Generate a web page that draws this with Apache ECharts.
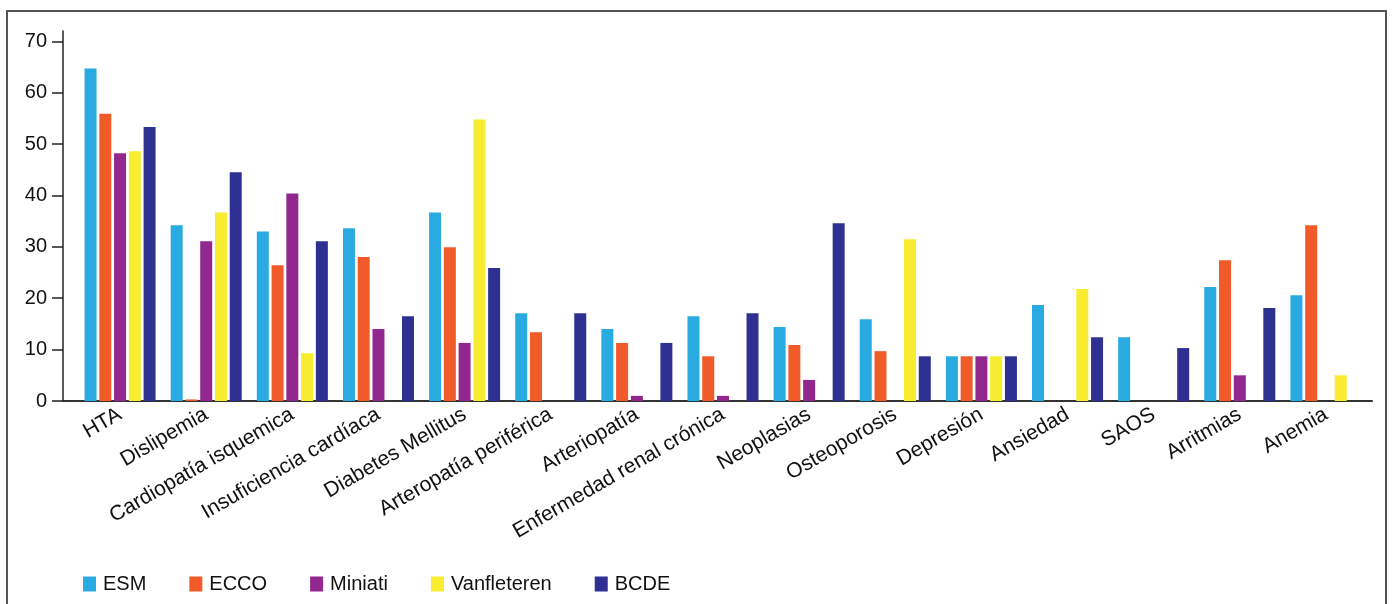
<!DOCTYPE html>
<html>
<head>
<meta charset="utf-8">
<script src="https://cdn.jsdelivr.net/npm/echarts@6/dist/echarts.min.js"></script>
<style>
  html, body { margin: 0; padding: 0; background: #fff; }
  #frame { position: absolute; left: 6px; top: 10px; width: 1381px; height: 700px;
           border: 2px solid #555; border-bottom: none; box-sizing: border-box; }
  #chart { position: absolute; left: 0; top: 0; width: 1395px; height: 604px; }
</style>
</head>
<body>
<div id="frame"></div>
<div id="chart"></div>
<script>
const categories = ['HTA', 'Dislipemia', 'Cardiopatía isquemica', 'Insuficiencia cardíaca', 'Diabetes Mellitus',
  'Arteropatía periférica', 'Arteriopatía', 'Enfermedad renal crónica', 'Neoplasias', 'Osteoporosis',
  'Depresión', 'Ansiedad', 'SAOS', 'Arritmias', 'Anemia'];
const esm = [64.7, 34.2, 33.0, 33.6, 36.7, 17.1, 14.0, 16.5, 14.4, 15.9, 8.7, 18.7, 12.4, 22.2, 20.6];
const ecco = [55.9, 0.3, 26.4, 28.0, 29.9, 13.4, 11.3, 8.7, 10.9, 9.7, 8.7, null, null, 27.4, 34.2];
const miniati = [48.2, 31.1, 40.4, 14.0, 11.3, null, 1.0, 1.0, 4.1, null, 8.7, null, null, 5.0, null];
const vanfleteren = [48.6, 36.7, 9.3, null, 54.8, null, null, null, null, 31.5, 8.7, 21.8, null, null, 5.0];
const bcde = [53.3, 44.5, 31.1, 16.5, 25.9, 17.1, 11.3, 17.1, 34.6, 8.7, 8.7, 12.4, 10.3, 18.1, null];
const yTicks = [0, 10, 20, 30, 40, 50, 60, 70];

const seriesNames = ['ESM', 'ECCO', 'Miniati', 'Vanfleteren', 'BCDE'];
const seriesData = [esm, ecco, miniati, vanfleteren, bcde];
const colors = ['#29ABE2', '#F15A29', '#92278F', '#F7EC2F', '#2E3192'];
const FONT = '"Liberation Sans", Arial, Helvetica, sans-serif';

const chart = echarts.init(document.getElementById('chart'), null, { renderer: 'canvas' });
chart.setOption({
  animation: false,
  color: colors,
  textStyle: { fontFamily: FONT },
  grid: [
    { left: 77, right: 26, top: 31, bottom: 203, containLabel: false },
    { left: 63, right: 23, top: 31, bottom: 203, containLabel: false }
  ],
  legend: {
    left: 83, top: 574, padding: 0,
    icon: 'rect', itemWidth: 13, itemHeight: 15, itemGap: 43,
    textStyle: { fontSize: 20, color: '#111', fontFamily: FONT, padding: [0, 0, 0, 2] },
    data: seriesNames
  },
  xAxis: [
    {
      type: 'category', gridIndex: 0, data: categories,
      axisLine: { show: false }, axisTick: { show: false },
      axisLabel: { rotate: 30, fontSize: 21, color: '#111', margin: 12, interval: 0, fontFamily: FONT }
    },
    {
      type: 'value', gridIndex: 1, min: 0, max: 1,
      axisLine: { show: true, lineStyle: { color: '#333', width: 2 } },
      axisTick: { show: false }, axisLabel: { show: false }, splitLine: { show: false }
    }
  ],
  yAxis: [
    {
      type: 'value', gridIndex: 0, min: 0, max: 72, interval: 10, show: false
    },
    {
      type: 'value', gridIndex: 1, min: 0, max: 72, interval: 10,
      axisLine: { show: true, lineStyle: { color: '#222', width: 1.5 } },
      axisTick: { show: true, length: 11, customValues: yTicks, lineStyle: { color: '#222', width: 1.5 } },
      axisLabel: { fontSize: 20, color: '#111', margin: 16, customValues: yTicks, fontFamily: FONT },
      splitLine: { show: false }
    }
  ],
  series: seriesNames.map((name, i) => ({
    name, type: 'bar', xAxisIndex: 0, yAxisIndex: 0,
    data: seriesData[i], barWidth: 12, barGap: '23%',
    itemStyle: { color: colors[i] }
  }))
});
</script>
</body>
</html>
